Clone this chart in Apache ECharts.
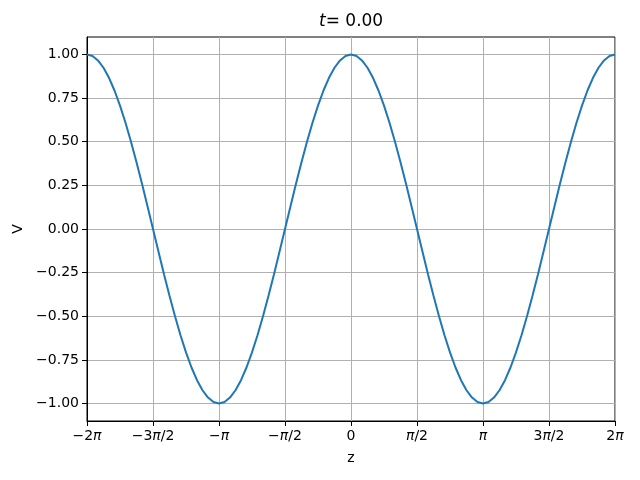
<!DOCTYPE html>
<html><head><meta charset="utf-8">
<script src="https://cdn.jsdelivr.net/npm/echarts@6/dist/echarts.min.js"></script>
<style>html,body{margin:0;padding:0;background:#fff}#c{width:640px;height:480px}</style>
</head><body><div id="c"></div>
<script>
// z sample positions, in units of pi (step 1/24)
var zValues = [
 -2,-1.9583,-1.9167,-1.875,-1.8333,-1.7917,-1.75,-1.7083,-1.6667,-1.625,-1.5833,-1.5417,
 -1.5,-1.4583,-1.4167,-1.375,-1.3333,-1.2917,-1.25,-1.2083,-1.1667,-1.125,-1.0833,-1.0417,
 -1,-0.9583,-0.9167,-0.875,-0.8333,-0.7917,-0.75,-0.7083,-0.6667,-0.625,-0.5833,-0.5417,
 -0.5,-0.4583,-0.4167,-0.375,-0.3333,-0.2917,-0.25,-0.2083,-0.1667,-0.125,-0.0833,-0.0417,
 0,0.0417,0.0833,0.125,0.1667,0.2083,0.25,0.2917,0.3333,0.375,0.4167,0.4583,
 0.5,0.5417,0.5833,0.625,0.6667,0.7083,0.75,0.7917,0.8333,0.875,0.9167,0.9583,
 1,1.0417,1.0833,1.125,1.1667,1.2083,1.25,1.2917,1.3333,1.375,1.4167,1.4583,
 1.5,1.5417,1.5833,1.625,1.6667,1.7083,1.75,1.7917,1.8333,1.875,1.9167,1.9583,2];
// V
var vValues = [
 1,0.9914,0.9659,0.9239,0.866,0.7934,0.7071,0.6088,0.5,0.3827,0.2588,0.1305,
 0,-0.1305,-0.2588,-0.3827,-0.5,-0.6088,-0.7071,-0.7934,-0.866,-0.9239,-0.9659,-0.9914,
 -1,-0.9914,-0.9659,-0.9239,-0.866,-0.7934,-0.7071,-0.6088,-0.5,-0.3827,-0.2588,-0.1305,
 0,0.1305,0.2588,0.3827,0.5,0.6088,0.7071,0.7934,0.866,0.9239,0.9659,0.9914,
 1,0.9914,0.9659,0.9239,0.866,0.7934,0.7071,0.6088,0.5,0.3827,0.2588,0.1305,
 0,-0.1305,-0.2588,-0.3827,-0.5,-0.6088,-0.7071,-0.7934,-0.866,-0.9239,-0.9659,-0.9914,
 -1,-0.9914,-0.9659,-0.9239,-0.866,-0.7934,-0.7071,-0.6088,-0.5,-0.3827,-0.2588,-0.1305,
 0,0.1305,0.2588,0.3827,0.5,0.6088,0.7071,0.7934,0.866,0.9239,0.9659,0.9914,1];
var xTickLabels = ['−2|π','−3|π/2','−|π','−|π/2','0|','|π/2','|π','3|π/2','2|π'];
var yTickValues = [-1.00,-0.75,-0.50,-0.25,0.00,0.25,0.50,0.75,1.00];
var titleT = '0.00';

var data = zValues.map(function(z, i){ return [z, vValues[i]]; });
var font = 'DejaVu Sans';

var chart = echarts.init(document.getElementById('c'), null, {renderer:'canvas'});
chart.setOption({
  animation:false,
  backgroundColor:'#fff',
  graphic:[{
    type:'text', left:319, top:13, z:100,
    style:{
      text:'{i|t}{n|= ' + titleT + '}',
      rich:{
        i:{fontFamily:font,fontStyle:'italic',fontSize:17,fill:'#000',color:'#000'},
        n:{fontFamily:font,fontSize:17,fill:'#000',color:'#000'}
      }
    }
  }],
  grid:{left:87,right:25,top:37,bottom:59,show:true,borderColor:'#000',borderWidth:1,backgroundColor:'transparent'},
  xAxis:{
    type:'value', min:-2, max:2, interval:0.5,
    name:'z', nameLocation:'middle', nameGap:30,
    nameTextStyle:{fontFamily:font,fontSize:14,color:'#000'},
    axisLine:{show:true,onZero:false,lineStyle:{color:'#000',width:1}},
    axisTick:{show:true,length:5,lineStyle:{color:'#000'}},
    splitLine:{show:true,lineStyle:{color:'#b0b0b0',width:1}},
    axisLabel:{
      margin:8,
      formatter:function(v){
        var k = Math.round((v + 2)/0.5);
        var parts = xTickLabels[k].split('|');
        var s = '';
        if (parts[0]) s += '{n|' + parts[0] + '}';
        if (parts[1]) {
          var p = parts[1];
          s += '{i|π}';
          if (p.length > 1) s += '{n|' + p.slice(1) + '}';
        }
        return s;
      },
      rich:{
        n:{fontFamily:font,fontSize:14,color:'#000'},
        i:{fontFamily:font,fontSize:14,fontStyle:'italic',color:'#000'}
      }
    }
  },
  yAxis:{
    type:'value', min:-1.1, max:1.1,
    name:'V', nameLocation:'middle', nameGap:62, nameRotate:90,
    nameTextStyle:{fontFamily:font,fontSize:14,color:'#000'},
    axisLine:{show:true,onZero:false,lineStyle:{color:'#000',width:1}},
    axisTick:{show:true,length:5,lineStyle:{color:'#000'},customValues:yTickValues},
    splitLine:{show:true,lineStyle:{color:'#b0b0b0',width:1}},
    axisLabel:{
      customValues:yTickValues,
      margin:8,
      fontFamily:font,fontSize:14,color:'#000',
      formatter:function(v){ return v.toFixed(2).replace('-', '−'); }
    }
  },
  series:[{
    type:'line', data:data, showSymbol:false, smooth:false,
    lineStyle:{color:'#1f77b4',width:2}, itemStyle:{color:'#1f77b4'}
  }]
});
</script></body></html>
